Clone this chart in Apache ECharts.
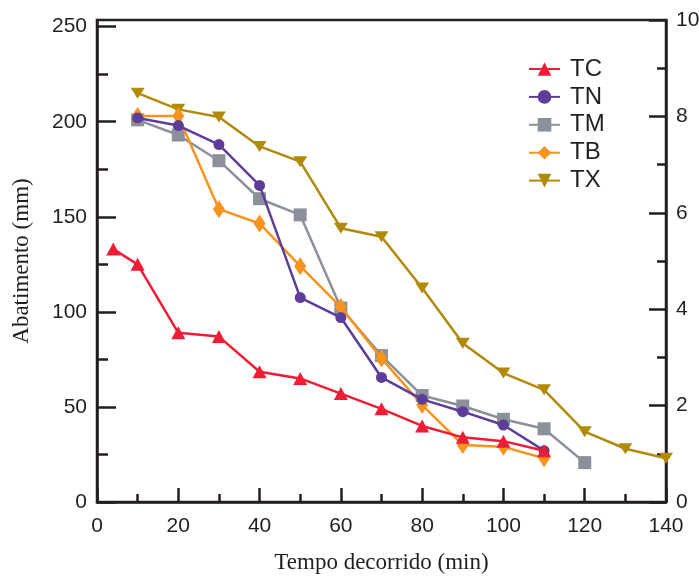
<!DOCTYPE html>
<html>
<head>
<meta charset="utf-8">
<script src="https://cdn.jsdelivr.net/npm/echarts@6/dist/echarts.min.js"></script>
<style>html,body{margin:0;padding:0;background:#fff;}#c{width:699px;height:576px;}</style>
</head>
<body>
<div id="c"></div>
<script>
// ---- data ----
const seriesNames = ['TC', 'TN', 'TM', 'TB', 'TX'];
const tcTime = [4, 10, 20, 30, 40, 50, 60, 70, 80, 90, 100, 110];
const tcVal  = [133, 125, 89, 87, 68.5, 65, 57, 49, 40, 34, 32, 27];
const tnTime = [10, 20, 30, 40, 50, 60, 70, 80, 90, 100, 110];
const tnVal  = [202, 198, 188, 166.5, 107.5, 97, 65.5, 54, 47.5, 40.5, 27];
const tmTime = [10, 20, 30, 40, 50, 60, 70, 80, 90, 100, 110, 120];
const tmVal  = [201, 193, 179.5, 159.5, 151, 102, 77, 56, 50.5, 43.5, 38.5, 20.7];
const tbTime = [10, 20, 30, 40, 50, 60, 70, 80, 90, 100, 110];
const tbVal  = [203, 203, 154, 146.5, 124, 102.5, 75.5, 51, 30, 29, 23];
const txTime = [10, 20, 30, 40, 50, 60, 70, 80, 90, 100, 110, 120, 130, 140];
const txVal  = [215, 206.5, 202.5, 187, 179, 144, 139.5, 112.5, 83.5, 67.8, 59, 37, 28, 23];
const leftTicks = [0, 50, 100, 150, 200, 250];
const leftMinorTicks = [25, 75, 125, 175, 225];

const ink = '#231f20';
const sans = 'Liberation Sans';
const serif = 'Liberation Serif';
const pair = (t, v) => t.map((x, i) => [x, v[i]]);

const chart = echarts.init(document.getElementById('c'), null, {renderer: 'canvas'});
const mk = (name, data, color, symbol, size, z) => ({
  name, type: 'line', data, xAxisIndex: 0, yAxisIndex: 0,
  symbol, symbolSize: size, showSymbol: true,
  lineStyle: {color, width: 2.5}, itemStyle: {color, opacity: 1},
  emphasis: {disabled: true}, z, animation: false
});
chart.setOption({
  animation: false,
  grid: {left: 97, right: 33, top: 20, bottom: 74, outerBoundsMode: 'none', containLabel: false,
         show: true, borderColor: ink, borderWidth: 2.5, backgroundColor: 'transparent'},
  legend: {
    orient: 'vertical', left: 528, top: 57, padding: 0, itemWidth: 31, itemHeight: 17, itemGap: 3.9,
    data: seriesNames,
    textStyle: {fontFamily: sans, fontSize: 24, lineHeight: 24, color: ink, padding: [0, 0, 0, 5]}
  },
  xAxis: [{
    type: 'value', min: 0, max: 140, interval: 20,
    name: 'Tempo decorrido (min)', nameLocation: 'middle', nameGap: 49,
    nameTextStyle: {fontFamily: serif, fontSize: 23, color: ink},
    axisLine: {lineStyle: {color: ink, width: 2.5}},
    axisTick: {inside: true, length: 14, lineStyle: {color: ink, width: 2.5}},
    minorTick: {show: true, splitNumber: 2, length: 8, lineStyle: {color: ink, width: 2.5}},
    axisLabel: {fontFamily: sans, fontSize: 21, color: ink, margin: 14},
    splitLine: {show: false}
  }],
  yAxis: [{
    type: 'value', min: 0, max: 253.5, position: 'left',
    name: 'Abatimento (mm)', nameLocation: 'middle', nameGap: 64, nameRotate: 90,
    nameTextStyle: {fontFamily: serif, fontSize: 23, color: ink},
    axisLine: {show: true, lineStyle: {color: ink, width: 2.5}},
    axisTick: {show: true, inside: true, length: 19, customValues: leftTicks, lineStyle: {color: ink, width: 2.5}},
    axisLabel: {fontFamily: sans, fontSize: 21, color: ink, margin: 10, customValues: leftTicks},
    splitLine: {show: false}
  }, {
    type: 'value', min: 0, max: 10, interval: 2, position: 'right',
    axisLine: {show: true, lineStyle: {color: ink, width: 2.5}},
    axisTick: {show: true, inside: true, length: 17, lineStyle: {color: ink, width: 2.5}},
    minorTick: {show: true, splitNumber: 2, length: 9, lineStyle: {color: ink, width: 2.5}},
    axisLabel: {fontFamily: sans, fontSize: 21, color: ink, margin: 10},
    splitLine: {show: false}
  }, {
    type: 'value', min: 0, max: 253.5, position: 'left',
    axisLine: {show: false},
    axisTick: {show: true, inside: true, length: 11, customValues: leftMinorTicks, lineStyle: {color: ink, width: 2.5}},
    axisLabel: {show: false, customValues: leftMinorTicks},
    splitLine: {show: false}
  }],
  series: [
    mk('TX', pair(txTime, txVal), '#B08A08', 'path://M0,0 L10,0 L5,8 Z', [14, 11], 2),
    mk('TM', pair(tmTime, tmVal), '#8B909B', 'rect', 13, 3),
    mk('TB', pair(tbTime, tbVal), '#F7941D', 'diamond', [12, 18], 4),
    mk('TN', pair(tnTime, tnVal), '#5C3D99', 'circle', 11, 5),
    mk('TC', pair(tcTime, tcVal), '#EE1D35', 'triangle', [14, 13], 6)
  ]
});
</script>
</body>
</html>
